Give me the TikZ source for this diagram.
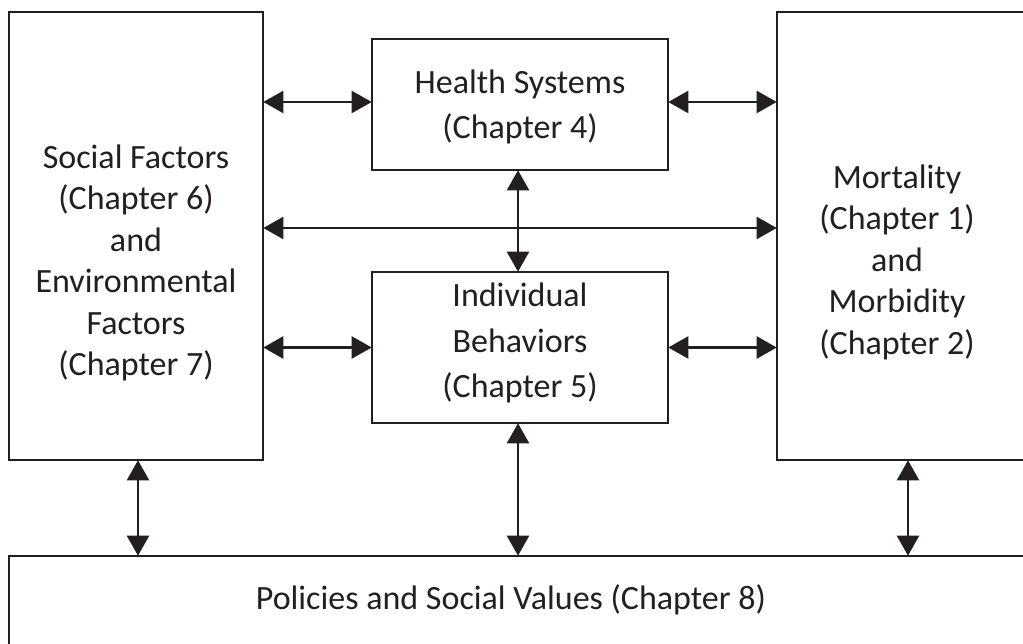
\documentclass[tikz,border=0pt]{standalone}
\usepackage{fontspec}
\setmainfont{Carlito}
\usetikzlibrary{arrows.meta}
\definecolor{ink}{HTML}{231F20}
\begin{document}
\begin{tikzpicture}[x=1pt,y=1pt,
  box/.style={draw=ink,line width=2.6pt,inner sep=0pt,fill=white},
  txt/.style={align=center,text=ink,font=\fontsize{34}{41.5}\selectfont},
  txtm/.style={align=center,text=ink,font=\fontsize{34}{45.5}\selectfont},
  dbl/.style={draw=ink,line width=2.4pt,{Triangle[length=20pt,width=22pt]}-{Triangle[length=20pt,width=22pt]},shorten <=-1pt,shorten >=-1pt}]
\useasboundingbox (0,0) rectangle (1023,644);
\clip (0,0) rectangle (1023,644);
% boxes
\node[box,minimum width=254,minimum height=448] (left) at (136,408) {};
\node[box,minimum width=263,minimum height=448] (right) at (908.5,408) {};
\node[box,minimum width=1031,minimum height=104] (pol) at (524.5,36) {};
\node[box,minimum width=296,minimum height=131] (hs) at (520,539.5) {};
\node[box,minimum width=296,minimum height=151] (ib) at (520,296.5) {};
% texts
\node[txt] (lefttxt) at (136,381) {Social Factors\\(Chapter 6)\\and\\Environmental\\Factors\\(Chapter 7)};
\node[txt] (righttxt) at (897,382) {Mortality\\(Chapter 1)\\and\\Morbidity\\(Chapter 2)};
\node[txt] (poltxt) at (511,44) {Policies and Social Values (Chapter 8)};
\node[txtm] (hstxt) at (520,537) {Health Systems\\(Chapter 4)};
\node[txtm] (ibtxt) at (520,301) {Individual\\Behaviors\\(Chapter 5)};
% arrows
\draw[dbl] ([yshift=2.5pt]left.east |- hs.west) -- ([yshift=2.5pt]hs.west);
\draw[dbl] ([yshift=2.5pt]hs.east) -- ([yshift=2.5pt]right.west |- hs.east);
\draw[dbl] ([yshift=8pt]left.east) -- ([yshift=8pt]right.west);
\draw[dbl] (left.east |- ib.west) -- (ib.west);
\draw[dbl] (ib.east) -- (right.west |- ib.east);
\draw[dbl] ([xshift=-2pt]hs.south) -- ([xshift=-2pt]ib.north);
\draw[dbl] ([xshift=-2pt]ib.south) -- ([xshift=-2pt]ib.south |- pol.north);
\draw[dbl] ([xshift=2pt]left.south) -- ([xshift=2pt]left.south |- pol.north);
\draw[dbl] ([xshift=-0.5pt]right.south) -- ([xshift=-0.5pt]right.south |- pol.north);
\end{tikzpicture}
\end{document}
